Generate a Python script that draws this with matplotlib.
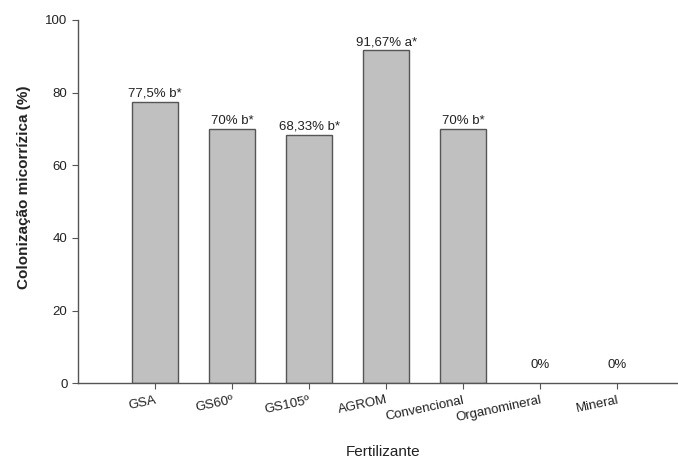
import matplotlib
matplotlib.use("Agg")
import matplotlib.pyplot as plt

plt.rcParams["font.family"] = ["Liberation Sans", "DejaVu Sans"]

categories = ["GSA", "GS60º", "GS105º", "AGROM", "Convencional", "Organomineral", "Mineral"]
colonizacao = [77.5, 70.0, 68.33, 91.67, 70.0, 0.0, 0.0]
letras = ["b*", "b*", "b*", "a*", "b*", "", ""]
y_ticks = [0, 20, 40, 60, 80, 100]


def rotulo(v, letra):
    if v == 0:
        return "0%"
    txt = f"{v:.2f}".rstrip("0").rstrip(".").replace(".", ",")
    return f"{txt}% {letra}"


fig = plt.figure(figsize=(6.78, 4.65), dpi=100)
ax = fig.add_axes([0.115, 0.176, 0.885, 0.781])

x = list(range(len(categories)))
bars = ax.bar(x, colonizacao, width=0.6, color="#c0c0c0",
              edgecolor="#555555", linewidth=1.0, zorder=2)
for b, v in zip(bars, colonizacao):
    if v == 0:
        b.set_linewidth(0)

for xi, v, l in zip(x, colonizacao, letras):
    off = 8.5 if v == 0 else 1.5
    ax.annotate(rotulo(v, l), (xi, v), xytext=(0, off), textcoords="offset points",
                ha="center", va="bottom", fontsize=9.5, color="#222222")

ax.set_xlim(-1.0, 6.79)
ax.set_ylim(0, 100)
ax.set_yticks(y_ticks)
ax.set_xticks(x)
ax.set_xticklabels(categories, rotation=12, ha="right", va="top",
                   rotation_mode="anchor", fontsize=9.5, color="#222222")
ax.tick_params(axis="y", labelsize=9.5, labelcolor="#222222", direction="out",
               length=4, color="#555555")
ax.tick_params(axis="x", direction="out", length=4, color="#555555", pad=4)

for s in ["top", "right"]:
    ax.spines[s].set_visible(False)
for s in ["left", "bottom"]:
    ax.spines[s].set_color("#555555")
    ax.spines[s].set_linewidth(1.0)

ax.set_ylabel("Colonização micorrízica (%)", fontsize=11, fontweight="bold",
              color="#222222", va="center")
ax.yaxis.set_label_coords(-0.09, 0.54)
ax.set_xlabel("Fertilizante", fontsize=11, color="#222222", va="center")
ax.xaxis.set_label_coords(0.508, -0.19)

fig.savefig("out.png", dpi=100)
